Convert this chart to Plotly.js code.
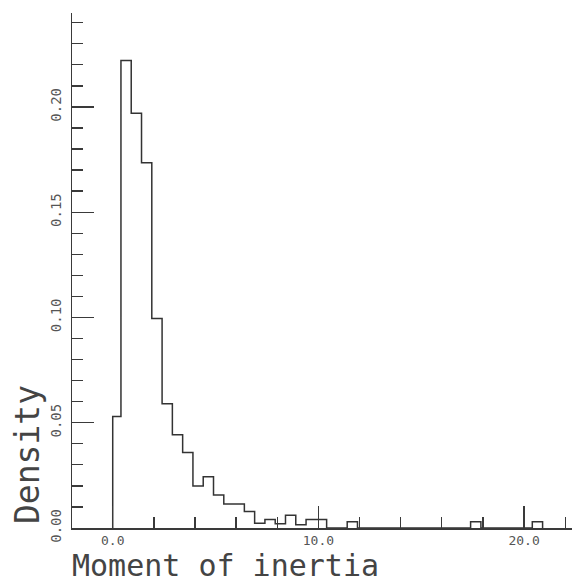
<!DOCTYPE html>
<html>
<head>
<meta charset="utf-8">
<script src="https://cdn.plot.ly/plotly-3.0.1.min.js"></script>
<style>
  html, body { margin: 0; padding: 0; background: #ffffff; }
  #chart { width: 572px; height: 583px; }
</style>
</head>
<body>
<div id="chart"></div>
<script>
// Histogram bin edges (moment of inertia) and densities
const binEdges = [0, 0.4, 0.9, 1.4, 1.9, 2.4, 2.9, 3.4, 3.9, 4.4, 4.9, 5.4, 5.9, 6.4, 6.9,
  7.4, 7.9, 8.4, 8.9, 9.4, 9.9, 10.4, 10.9, 11.4, 11.9, 12.4, 12.9, 13.4, 13.9, 14.4,
  14.9, 15.4, 15.9, 16.4, 16.9, 17.4, 17.9, 18.4, 18.9, 19.4, 19.9, 20.4, 20.9];
const density = [0.053, 0.222, 0.197, 0.1735, 0.0995, 0.059, 0.0443, 0.0358, 0.020, 0.0244,
  0.0157, 0.0114, 0.0114, 0.0078, 0.0022, 0.004, 0.002, 0.006, 0.0015, 0.004,
  0.004, 0, 0, 0.003, 0, 0, 0, 0, 0, 0,
  0, 0, 0, 0, 0, 0.003, 0, 0, 0, 0,
  0, 0.003];
const xTickVals = [0, 10, 20];
const yTickVals = [0, 0.05, 0.10, 0.15, 0.20];
const xLabel = "Moment of inertia";
const yLabel = "Density";

// Step outline through the edges
const xs = [binEdges[0]];
const ys = [0];
for (let i = 0; i < density.length; i++) { xs.push(binEdges[i]); ys.push(density[i]); }
xs.push(binEdges[binEdges.length - 1]); ys.push(0);

const W = 572, H = 583;
const L = 72, R = 0, T = 13, B = 55;
const pw = W - L - R, ph = H - T - B;
const px2paperX = px => (px - L) / pw;
const px2paperY = py => (H - B - py) / ph;

const fontFam = "DejaVu Sans Mono, monospace";
const axCol = "#3a3a3a";

const trace = {
  x: xs, y: ys, type: "scatter", mode: "lines",
  line: { shape: "hv", color: "#333333", width: 1.5 },
  hoverinfo: "skip"
};

const layout = {
  width: W, height: H,
  margin: { l: L, r: R, t: T, b: B, pad: 0 },
  paper_bgcolor: "#ffffff", plot_bgcolor: "#ffffff",
  showlegend: false,
  xaxis: {
    range: [-1.98, 22.33], showgrid: false, zeroline: false,
    showline: true, linecolor: axCol, linewidth: 1.5,
    tickmode: "array", tickvals: xTickVals,
    ticktext: xTickVals.map(v => v.toFixed(1)),
    ticks: "inside", ticklen: 22, tickwidth: 1.3, tickcolor: axCol,
    minor: { dtick: 2, tick0: 0, ticks: "inside", ticklen: 11, tickwidth: 1.3, tickcolor: axCol },
    tickfont: { family: fontFam, size: 13, color: "#555555" },
    ticklabelstandoff: 0
  },
  yaxis: {
    range: [0, 0.2446], showgrid: false, zeroline: false,
    showline: true, linecolor: axCol, linewidth: 1.5,
    tickmode: "array", tickvals: yTickVals,
    ticktext: yTickVals.map(v => v.toFixed(2)),
    ticks: "inside", ticklen: 22, tickwidth: 1.3, tickcolor: axCol,
    minor: { dtick: 0.01, tick0: 0, ticks: "inside", ticklen: 11, tickwidth: 1.3, tickcolor: axCol },
    tickangle: -90,
    tickfont: { family: fontFam, size: 14, color: "#555555" },
    ticklabelstandoff: 4
  },
  annotations: [
    {
      text: yLabel, xref: "paper", yref: "paper",
      x: px2paperX(27), y: px2paperY(455), xanchor: "center", yanchor: "middle",
      textangle: -90, showarrow: false,
      font: { family: fontFam, size: 33, color: "#444444" }
    },
    {
      text: xLabel, xref: "paper", yref: "paper",
      x: px2paperX(71), y: px2paperY(565), xanchor: "left", yanchor: "middle",
      showarrow: false, borderpad: 0,
      font: { family: fontFam, size: 30, color: "#444444" }
    }
  ]
};

Plotly.newPlot("chart", [trace], layout, { staticPlot: true, displayModeBar: false });
</script>
</body>
</html>
